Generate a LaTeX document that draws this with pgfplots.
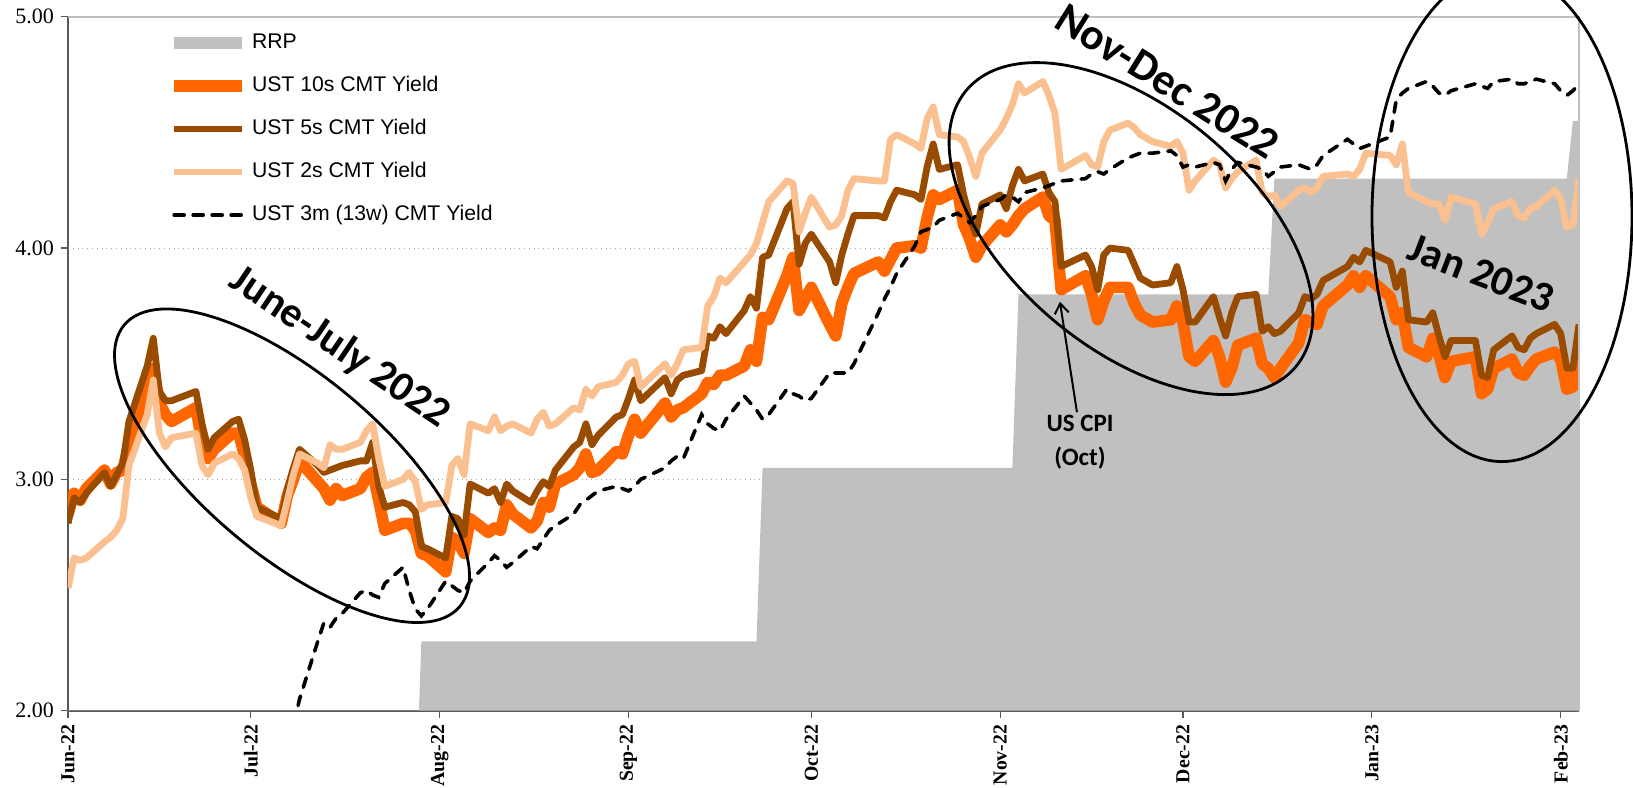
\documentclass[border=0pt]{standalone}
\usepackage{fontspec}
\setmainfont{Liberation Serif}
\newfontfamily\legfont{Liberation Sans}
\newfontfamily\annfont{Carlito}
\usepackage{pgfplots}
\pgfplotsset{compat=1.18}
\usepackage{pgfplotstable}
\usetikzlibrary{arrows.meta}

\definecolor{tenY}{RGB}{255,102,0}
\definecolor{fiveY}{RGB}{153,76,0}
\definecolor{twoY}{RGB}{250,192,144}
\definecolor{rrpgray}{RGB}{192,192,192}

% x = days since 31 May 2022
\pgfplotstableread{
d v
0 1.55
57 1.55
58 2.30
113 2.30
114 3.05
155 3.05
156 3.80
197 3.80
198 4.30
246 4.30
247 4.55
248 4.55
}\rrp

\pgfplotstableread{
d v
0 2.85
1 2.94
2 2.91
3 2.96
6 3.04
7 2.98
8 3.03
9 3.04
10 3.15
13 3.37
14 3.48
15 3.33
16 3.28
17 3.25
21 3.31
22 3.16
23 3.09
24 3.13
27 3.20
28 3.20
29 3.10
30 2.98
31 2.88
35 2.81
36 2.93
37 3.00
38 3.08
41 2.99
42 2.96
43 2.91
44 2.96
45 2.93
48 2.96
49 3.01
50 3.03
51 2.91
52 2.78
55 2.81
56 2.81
57 2.78
58 2.68
59 2.67
62 2.60
63 2.75
64 2.73
65 2.68
66 2.83
69 2.77
70 2.79
71 2.78
72 2.89
73 2.85
76 2.79
77 2.82
78 2.90
79 2.88
80 2.98
83 3.02
84 3.05
85 3.11
86 3.03
87 3.04
90 3.12
91 3.11
92 3.19
93 3.26
94 3.20
98 3.33
99 3.27
100 3.30
101 3.31
104 3.37
105 3.42
106 3.41
107 3.45
108 3.45
111 3.49
112 3.56
113 3.51
114 3.70
115 3.69
118 3.88
119 3.96
120 3.73
121 3.78
122 3.83
125 3.67
126 3.62
127 3.76
128 3.83
129 3.89
133 3.94
134 3.90
135 3.95
136 4.00
139 4.01
140 4.00
141 4.13
142 4.23
143 4.21
146 4.25
147 4.10
148 4.04
149 3.96
150 4.01
153 4.10
154 4.07
155 4.10
156 4.14
157 4.17
160 4.22
161 4.14
162 4.12
163 3.82
167 3.88
168 3.80
169 3.69
170 3.77
171 3.83
174 3.83
175 3.76
176 3.71
178 3.68
181 3.69
182 3.75
183 3.68
184 3.53
185 3.51
188 3.60
189 3.53
190 3.42
191 3.48
192 3.58
195 3.61
196 3.50
197 3.48
198 3.44
199 3.48
202 3.59
203 3.69
204 3.68
205 3.67
206 3.75
210 3.84
211 3.88
212 3.83
213 3.88
217 3.79
218 3.69
219 3.72
220 3.57
223 3.53
224 3.61
225 3.54
226 3.44
227 3.51
231 3.53
232 3.37
233 3.39
234 3.48
237 3.52
238 3.46
239 3.45
240 3.49
241 3.52
244 3.55
245 3.52
246 3.39
247 3.40
248 3.53
}\tenyr

\pgfplotstableread{
d v
0 2.81
1 2.92
2 2.90
3 2.94
6 3.03
7 2.97
8 3.02
9 3.07
10 3.25
13 3.49
14 3.61
15 3.38
16 3.34
17 3.34
21 3.38
22 3.24
23 3.13
24 3.18
27 3.25
28 3.26
29 3.17
30 3.04
31 2.88
35 2.83
36 2.96
37 3.05
38 3.13
41 3.06
42 3.03
43 3.04
44 3.05
45 3.06
48 3.08
49 3.08
50 3.16
51 2.97
52 2.88
55 2.90
56 2.89
57 2.86
58 2.71
59 2.70
62 2.66
63 2.84
64 2.83
65 2.76
66 2.98
69 2.94
70 2.96
71 2.90
72 2.98
73 2.95
76 2.90
77 2.95
78 2.99
79 2.97
80 3.04
83 3.14
84 3.16
85 3.24
86 3.15
87 3.19
90 3.27
91 3.28
92 3.35
93 3.43
94 3.34
98 3.44
99 3.37
100 3.43
101 3.45
104 3.47
105 3.62
106 3.61
107 3.66
108 3.63
111 3.73
112 3.79
113 3.74
114 3.96
115 3.97
118 4.17
119 4.20
120 3.93
121 4.02
122 4.06
125 3.94
126 3.85
127 3.97
128 4.06
129 4.14
133 4.14
134 4.13
135 4.20
136 4.25
139 4.23
140 4.21
141 4.35
142 4.45
143 4.34
146 4.36
147 4.23
148 4.13
149 4.06
150 4.19
153 4.23
154 4.17
155 4.27
156 4.34
157 4.29
160 4.32
161 4.24
162 4.20
163 3.92
167 3.97
168 3.92
169 3.82
170 3.97
171 4.00
174 3.99
175 3.93
176 3.87
178 3.84
181 3.85
182 3.92
183 3.82
184 3.68
185 3.68
188 3.79
189 3.70
190 3.62
191 3.72
192 3.79
195 3.80
196 3.64
197 3.66
198 3.63
199 3.64
202 3.72
203 3.79
204 3.78
205 3.80
206 3.86
210 3.92
211 3.96
212 3.94
213 3.99
217 3.94
218 3.83
219 3.90
220 3.69
223 3.68
224 3.72
225 3.62
226 3.53
227 3.60
231 3.60
232 3.45
233 3.44
234 3.56
237 3.62
238 3.57
239 3.56
240 3.61
241 3.63
244 3.67
245 3.63
246 3.48
247 3.48
248 3.67
}\fiveyr

\pgfplotstableread{
d v
0 2.53
1 2.66
2 2.65
3 2.66
6 2.73
7 2.75
8 2.78
9 2.83
10 3.06
13 3.28
14 3.43
15 3.20
16 3.14
17 3.18
21 3.20
22 3.06
23 3.02
24 3.07
27 3.11
28 3.09
29 3.04
30 2.92
31 2.84
35 2.80
36 2.91
37 3.02
38 3.11
41 3.07
42 3.05
43 3.15
44 3.13
45 3.13
48 3.16
49 3.21
50 3.24
51 3.09
52 2.97
55 3.00
56 3.03
57 2.99
58 2.87
59 2.89
62 2.90
63 3.06
64 3.09
65 3.02
66 3.24
69 3.21
70 3.27
71 3.21
72 3.23
73 3.24
76 3.20
77 3.26
78 3.29
79 3.23
80 3.24
83 3.31
84 3.30
85 3.39
86 3.36
87 3.40
90 3.42
91 3.45
92 3.50
93 3.51
94 3.40
98 3.50
99 3.45
100 3.50
101 3.56
104 3.57
105 3.75
106 3.79
107 3.87
108 3.85
111 3.94
112 3.97
113 4.02
114 4.11
115 4.20
118 4.29
119 4.28
120 4.07
121 4.15
122 4.22
125 4.09
126 4.10
127 4.14
128 4.25
129 4.30
133 4.29
134 4.29
135 4.47
136 4.49
139 4.45
140 4.43
141 4.56
142 4.61
143 4.49
146 4.48
147 4.46
148 4.39
149 4.31
150 4.41
153 4.51
154 4.56
155 4.62
156 4.71
157 4.67
160 4.72
161 4.66
162 4.58
163 4.34
167 4.40
168 4.36
169 4.35
170 4.46
171 4.51
174 4.54
175 4.52
176 4.49
178 4.46
181 4.44
182 4.46
183 4.41
184 4.25
185 4.29
188 4.38
189 4.36
190 4.26
191 4.30
192 4.33
195 4.38
196 4.24
197 4.22
198 4.23
199 4.18
202 4.25
203 4.26
204 4.24
205 4.26
206 4.31
210 4.32
211 4.31
212 4.34
213 4.41
217 4.40
218 4.36
219 4.45
220 4.24
223 4.20
224 4.19
225 4.19
226 4.12
227 4.22
231 4.19
232 4.06
233 4.11
234 4.17
237 4.20
238 4.14
239 4.13
240 4.17
241 4.18
244 4.25
245 4.21
246 4.09
247 4.10
248 4.30
}\twoyr

\pgfplotstableread{
d v
36 1.78
37 1.93
38 2.05
41 2.30
42 2.38
43 2.36
44 2.40
45 2.42
48 2.51
49 2.52
50 2.50
51 2.49
52 2.55
55 2.62
56 2.52
57 2.44
58 2.41
59 2.44
62 2.56
63 2.54
64 2.52
65 2.51
66 2.56
69 2.64
70 2.67
71 2.65
72 2.62
73 2.64
76 2.71
77 2.70
78 2.74
79 2.78
80 2.80
83 2.85
84 2.89
85 2.91
86 2.93
87 2.95
90 2.97
91 2.96
92 2.95
93 2.97
94 3.00
98 3.05
99 3.08
100 3.10
101 3.09
104 3.28
105 3.24
106 3.22
107 3.21
108 3.26
111 3.36
112 3.33
113 3.30
114 3.26
115 3.28
118 3.39
119 3.37
120 3.36
121 3.34
122 3.35
125 3.46
126 3.46
127 3.46
128 3.46
129 3.50
133 3.72
134 3.78
135 3.83
136 3.89
139 4.01
140 4.07
141 4.08
142 4.09
143 4.12
146 4.15
147 4.13
148 4.11
149 4.14
150 4.18
153 4.21
154 4.23
155 4.22
156 4.20
157 4.24
160 4.26
161 4.27
162 4.28
163 4.29
167 4.30
168 4.32
169 4.33
170 4.32
171 4.34
174 4.39
175 4.40
176 4.41
178 4.41
181 4.42
182 4.40
183 4.35
184 4.36
185 4.35
188 4.37
189 4.36
190 4.29
191 4.34
192 4.37
195 4.35
196 4.34
197 4.31
198 4.33
199 4.35
202 4.36
203 4.35
204 4.34
205 4.36
206 4.40
210 4.47
211 4.45
212 4.43
213 4.44
217 4.48
218 4.64
219 4.67
220 4.69
223 4.72
224 4.70
225 4.67
226 4.66
227 4.68
231 4.71
232 4.70
233 4.69
234 4.72
237 4.73
238 4.71
239 4.71
240 4.72
241 4.73
244 4.71
245 4.68
246 4.66
247 4.68
248 4.71
}\threem

\begin{document}
\begin{tikzpicture}
\begin{axis}[
  scale only axis, width=755.5pt, height=347pt,
  xmin=0, xmax=248, ymin=2, ymax=5,
  axis x line*=bottom, axis y line*=left,
  axis line style={black!65, line width=0.8pt},
  xtick={0,30,61,92,122,153,183,214,245},
  xticklabels={Jun-22,Jul-22,Aug-22,Sep-22,Oct-22,Nov-22,Dec-22,Jan-23,Feb-23},
  xticklabel style={rotate=90, anchor=east, font=\bfseries\fontsize{9.9}{11}\selectfont},
  ytick={2,3,4,5}, yticklabels={2.00,3.00,4.00,5.00},
  yticklabel style={font=\fontsize{11}{12}\selectfont},
  tick align=outside, major tick length=3.5pt,
  tick style={black!65, line width=0.6pt},
  ymajorgrids, grid style={black!35, dotted, line width=0.4pt},
  legend style={draw=none, fill=none, at={(rel axis cs:0,1)}, anchor=north west,
    xshift=47pt, yshift=-4pt, row sep=7.5pt,
    font=\legfont\fontsize{10.6}{12}\selectfont,
    nodes={inner sep=2pt, text height=7.5pt, text depth=2.5pt}},
  legend cell align=left,
  legend image code/.code={\draw[#1] (0pt,0pt) -- (34pt,0pt);},
]
\addplot[fill=rrpgray, draw=none,
  legend image code/.code={\fill[rrpgray] (0pt,-2.8pt) rectangle (34pt,2.8pt);}]
  table[x=d, y=v] {\rrp} \closedcycle;
\addlegendentry{RRP}
\addplot[tenY, line width=5.8pt, line join=round] table[x=d, y=v] {\tenyr};
\addlegendentry{UST 10s CMT Yield}
\addplot[fiveY, line width=3.4pt, line join=round] table[x=d, y=v] {\fiveyr};
\addlegendentry{UST 5s CMT Yield}
\addplot[twoY, line width=3.4pt, line join=round] table[x=d, y=v] {\twoyr};
\addlegendentry{UST 2s CMT Yield}
\addplot[black, line width=1.8pt, line cap=round, dash pattern=on 5pt off 4.5pt] table[x=d, y=v] {\threem};
\addlegendentry{UST 3m (13w) CMT Yield}

\coordinate (SW) at (rel axis cs:0,0);
\coordinate (NE) at (rel axis cs:1,1);
\coordinate (E1) at (axis cs:36.77,3.059);
\coordinate (E2) at (axis cs:174.47,4.084);
\coordinate (E3) at (axis cs:235.36,4.136);
\coordinate (T1) at (axis cs:44.6,3.57);
\coordinate (T2) at (axis cs:180.4,4.72);
\coordinate (T3) at (axis cs:232.0,3.89);
\coordinate (C1) at (axis cs:166.1,3.160);
\coordinate (A1) at (axis cs:165.6,3.29);
\coordinate (A2) at (axis cs:162.8,3.768);
\end{axis}
\draw[black!25, line width=1pt] (SW |- NE) -- (NE) -- (NE |- SW);
\draw[line width=1.4pt, rotate around={-40:(E1)}] (E1) ellipse [x radius=109.5pt, y radius=45pt];
\draw[line width=1.4pt, rotate around={-40:(E2)}] (E2) ellipse [x radius=107.5pt, y radius=60pt];
\draw[line width=1.4pt] (E3) ellipse [x radius=65pt, y radius=122.5pt];
\node[rotate=-34, font=\annfont\bfseries\fontsize{21}{24}\selectfont] at (T1) {June-July 2022};
\node[rotate=-32, font=\annfont\bfseries\fontsize{22}{24}\selectfont] at (T2) {Nov-Dec 2022};
\node[rotate=-21, font=\annfont\bfseries\fontsize{21}{24}\selectfont] at (T3) {Jan 2023};
\node[align=center, font=\annfont\bfseries\fontsize{12.5}{17}\selectfont] at (C1) {US CPI\\(Oct)};
\draw[line width=1pt, -{Straight Barb[length=5pt, width=7pt]}] (A1) -- (A2);
\pgfresetboundingbox
\path ([shift={(-34pt,-38.5pt)}]SW) rectangle ([shift={(27pt,8.35pt)}]NE);
\end{tikzpicture}
\end{document}
